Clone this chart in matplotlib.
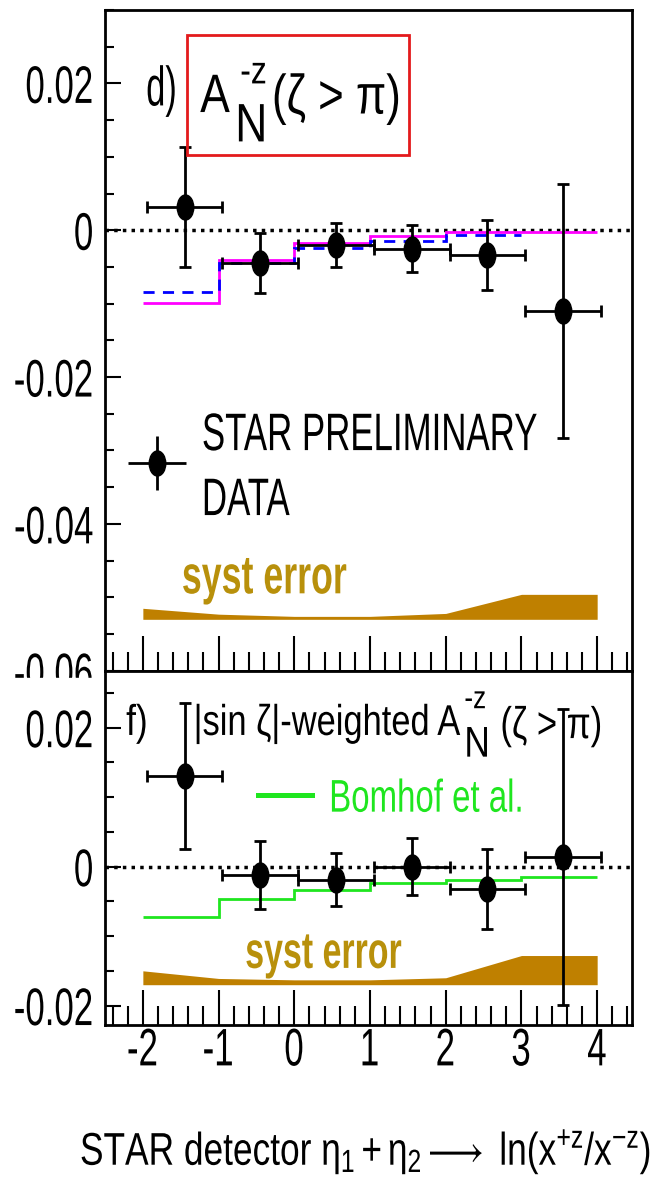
import matplotlib
matplotlib.use('Agg')
import matplotlib.pyplot as plt
from matplotlib.markers import MarkerStyle
from matplotlib.patheffects import AbstractPathEffect
from matplotlib.patches import Rectangle
from matplotlib.ticker import MultipleLocator
from matplotlib.transforms import Affine2D

plt.rcParams['font.family'] = ['Liberation Sans', 'DejaVu Sans']
plt.rcParams['mathtext.fontset'] = 'custom'
plt.rcParams['mathtext.rm'] = 'Liberation Sans'
plt.rcParams['mathtext.it'] = 'Liberation Sans'
plt.rcParams['mathtext.bf'] = 'Liberation Sans:bold'
plt.rcParams['mathtext.fallback'] = 'stixsans'
plt.rcParams['axes.unicode_minus'] = False

# data points (bin centres, half widths)
x_pts = [-1.45, -0.45, 0.55, 1.55, 2.55, 3.55]
x_half = [0.5, 0.5, 0.5, 0.5, 0.5, 0.5]

# panel d) A_N^-z (zeta > pi)
an_top = [0.0032, -0.0045, -0.0020, -0.0025, -0.0034, -0.0110]
an_top_err = [0.0082, 0.0041, 0.0030, 0.0032, 0.0048, 0.0173]
model_edges = [-2, -1, 0, 1, 2, 3, 4]
magenta_vals = [-0.0099, -0.0041, -0.0017, -0.0008, -0.0003, -0.0002]
blue_vals = [-0.0084, -0.0044, -0.0024, -0.0014, -0.0007]
syst_x = [-2, -1, 0, 1, 2, 3, 4]
syst_top_hi = [-0.0515, -0.0523, -0.0526, -0.0526, -0.0522, -0.0496, -0.0496]
syst_top_lo = -0.0530

# panel f) |sin zeta|-weighted
an_bot = [0.0131, -0.0012, -0.0019, 0.0000, -0.0032, 0.0014]
an_bot_err = [0.0105, 0.0049, 0.0038, 0.0041, 0.0058, 0.0213]
green_vals = [-0.0072, -0.0047, -0.0033, -0.0023, -0.0019, -0.0015]
syst_bot_hi = [-0.0150, -0.0161, -0.0163, -0.0163, -0.0160, -0.0128, -0.0128]
syst_bot_lo = -0.0170

top_yticks = [0.02, 0, -0.02, -0.04, -0.06]
top_ylabels = ['0.02', '0', '-0.02', '-0.04', '-0.06']
bot_yticks = [0.02, 0, -0.02]
bot_ylabels = ['0.02', '0', '-0.02']
x_ticks = [-2, -1, 0, 1, 2, 3, 4]
x_labels = ['-2', '-1', '0', '1', '2', '3', '4']

# the original picture is squeezed horizontally
SX = 0.66        # tick labels, legend, syst error
SX_TITLE = 0.82  # panel titles


class Squeeze(AbstractPathEffect):
    # shrink a drawn text path horizontally around its left/centre/right
    def __init__(self, sx=SX, anchor='left'):
        super().__init__()
        self.sx = sx
        self.anchor = anchor

    def draw_path(self, renderer, gc, tpath, affine, rgbFace=None):
        xs = affine.transform(tpath.vertices)[:, 0]
        if len(xs) == 0:
            return
        if self.anchor == 'left':
            x0 = xs.min()
        elif self.anchor == 'right':
            x0 = xs.max()
        else:
            x0 = 0.5 * (xs.min() + xs.max())
        sq = affine + Affine2D().translate(-x0, 0).scale(self.sx, 1).translate(x0, 0)
        renderer.draw_path(gc, tpath, sq, rgbFace)


def stext(ax, x, y, s, size, sx=SX, anchor='left', **kw):
    t = ax.text(x, y, s, fontsize=size, ha=anchor, va='baseline', **kw)
    t.set_path_effects([Squeeze(sx, anchor)])
    return t


dot = MarkerStyle('o', transform=Affine2D().scale(SX, 1))
band_col = '#BF8000'
syst_col = '#B8900B'
green = '#1FE61F'

fig = plt.figure(figsize=(6.59, 11.87), dpi=100)
W, H = 659, 1187
ax1 = fig.add_axes([105 / W, 1 - 670.7 / H, 527 / W, 660.7 / H])
ax2 = fig.add_axes([105 / W, 1 - 1025 / H, 527 / W, 354.3 / H])
ax1.set_zorder(0)
ax2.set_zorder(1)
# bottom pad hides the lower half of the -0.06 label
fig.add_artist(Rectangle((0, 0), 1, 1 - 678 / H, transform=fig.transFigure,
                         color='white', zorder=0.5))

for ax in (ax1, ax2):
    ax.set_xlim(-2.5, 4.46)
    ax.xaxis.set_major_locator(MultipleLocator(1))
    ax.xaxis.set_minor_locator(MultipleLocator(0.2))
    ax.yaxis.set_minor_locator(MultipleLocator(0.005))
    ax.tick_params(which='both', direction='in', top=False, right=False,
                   width=1.5, labelsize=38)
    ax.tick_params(axis='x', which='major', length=25, pad=1)
    ax.tick_params(axis='x', which='minor', length=14)
    ax.tick_params(axis='y', which='major', length=11.5, pad=8)
    ax.tick_params(axis='y', which='minor', length=6.5)
    for sp in ax.spines.values():
        sp.set_linewidth(2)
    ax.axhline(0, color='k', ls=(0, (1, 1.5)), lw=2.5, zorder=2)

# ---- top panel
ax1.set_ylim(-0.06, 0.03)
ax1.set_yticks(top_yticks, top_ylabels)
ax1.tick_params(axis='x', labelbottom=False)

ax1.fill_between(syst_x, syst_top_lo, syst_top_hi, color=band_col, lw=0, zorder=1)
ax1.stairs(magenta_vals, model_edges, baseline=None, color='#FF00FF', lw=2, zorder=2.5)
ax1.stairs(blue_vals, model_edges[:6], baseline=None, color='#0000FF', lw=2,
           ls=(0, (4, 3)), zorder=2.6)
ax1.errorbar(x_pts, an_top, yerr=an_top_err, xerr=x_half, fmt='none', ecolor='k',
             elinewidth=2, capsize=4.5, capthick=2, zorder=3)
ax1.plot(x_pts, an_top, ls='none', marker=dot, ms=18, color='k', zorder=3.1)

ax1.add_patch(Rectangle((-1.419, 0.01021), 2.929, 0.01643, fill=False,
                        edgecolor='#E31A1C', lw=2, zorder=4))
stext(ax1, -1.956, 0.0170, 'd)', 40, sx=0.62)
stext(ax1, -1.243, 0.0161, 'A', 39, sx=SX_TITLE)
stext(ax1, -0.780, 0.0121, 'N', 39, sx=SX_TITLE)
stext(ax1, -0.714, 0.0200, '-z', 28, sx=SX_TITLE)
stext(ax1, -0.295, 0.0159, '(ζ > π)', 40, sx=0.79)

# legend
ax1.errorbar([-1.81], [-0.0317], yerr=[0.0037], xerr=[0.38], fmt='none',
             ecolor='k', elinewidth=2, capsize=0)
ax1.plot([-1.81], [-0.0317], ls='none', marker=dot, ms=18, color='k')
stext(ax1, -1.220, -0.02995, 'STAR PRELIMINARY', 38)
stext(ax1, -1.220, -0.0388, 'DATA', 38)
stext(ax1, -1.485, -0.04946, 'syst error', 39, color=syst_col, fontweight='bold')

# ---- bottom panel
ax2.set_ylim(-0.0228, 0.0282)
ax2.set_yticks(bot_yticks, bot_ylabels)
ax2.set_xticks(x_ticks, x_labels)

ax2.fill_between(syst_x, syst_bot_lo, syst_bot_hi, color=band_col, lw=0, zorder=1)
ax2.stairs(green_vals, model_edges, baseline=None, color=green, lw=2, zorder=2.5)
ax2.errorbar(x_pts, an_bot, yerr=an_bot_err, xerr=x_half, fmt='none', ecolor='k',
             elinewidth=2, capsize=4.5, capthick=2, zorder=3)
ax2.plot(x_pts, an_bot, ls='none', marker=dot, ms=18, color='k', zorder=3.1)

stext(ax2, -2.221, 0.01895, 'f)', 31, sx=SX_TITLE)
stext(ax2, -1.330, 0.01895, '|sin ζ|-weighted A', 31, sx=0.80)
stext(ax2, 2.246, 0.01583, 'N', 31, sx=SX_TITLE)
stext(ax2, 2.246, 0.0228, '-z', 23, sx=SX_TITLE)
stext(ax2, 2.722, 0.0185, '(ζ > π)', 32, sx=0.78)
ax2.plot([-0.474, 0.240], [0.01032, 0.01032], color=green, lw=3.6)
stext(ax2, 0.461, 0.00791, 'Bomhof et al.', 33, sx=0.72, color=green)
stext(ax2, -0.648, -0.01458, 'syst error', 37, color=syst_col, fontweight='bold')

xl = fig.text(366 / W, 1 - 1165 / H,
              r'STAR detector $\eta_1 + \eta_2 \longrightarrow$ ln(x$^{+z}$/x$^{-z}$)',
              fontsize=33, ha='center', va='baseline')
xl.set_path_effects([Squeeze(0.77, 'center')])

fig.canvas.draw()
for ax in (ax1, ax2):
    for lbl in ax.get_yticklabels():
        lbl.set_path_effects([Squeeze(SX, 'right')])
    for lbl in ax.get_xticklabels():
        lbl.set_path_effects([Squeeze(SX, 'center')])

fig.savefig('out.png', dpi=100)
